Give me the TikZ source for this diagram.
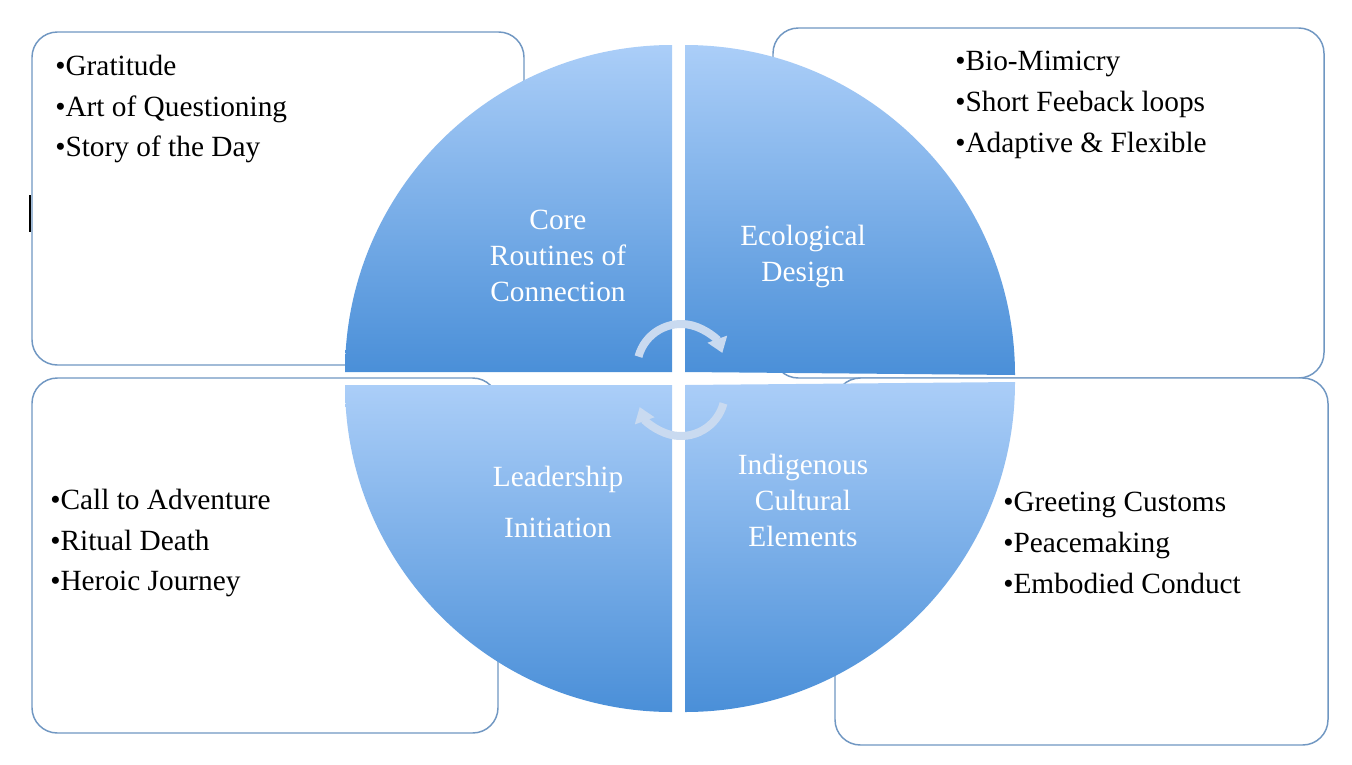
\documentclass[tikz,border=0pt]{standalone}
\usepackage{fontspec}
\setmainfont{Liberation Serif}
\usetikzlibrary{arrows.meta}
\definecolor{boxline}{HTML}{7097C2}
\definecolor{wedgetop}{HTML}{ABCEF8}
\definecolor{wedgebot}{HTML}{4A8FD8}
\definecolor{turn}{HTML}{C9DAF0}
\begin{document}
\begin{tikzpicture}[
		x=0.75pt, y=-0.75pt,
		card/.style={draw=boxline,fill=white,line width=1.1pt,rounded corners=19pt},
		items/.style={anchor=north west,align=left,inner sep=0pt,
		font=\fontsize{22}{30.5}\selectfont},
		title/.style={text=white,align=center,
		font=\fontsize{22}{27}\selectfont},
		wedge/.style={top color=wedgetop,bottom color=wedgebot},
		turnarc/.style={draw=turn,line width=6pt,-{Triangle[length=11pt,width=15pt]}}
		]
		\useasboundingbox (0,0) rectangle (1352,764);
		% boxes behind the circle
		\draw[card] (32,32) rectangle (524,365);
		\draw[card] (773,28) rectangle (1324,378);
		\draw[card] (32,378) rectangle (498,733);
		\draw[card] (835,378) rectangle (1328,745);
		\draw[line width=0.8pt] (30,195) -- (30,232);
		% four quarter wedges
		\shade[wedge] (672,372) -- ++(-327,0) arc[start angle=180,end angle=270,radius=327] -- cycle;
		\shade[wedge] (685,372) -- ++(0,-327) arc[start angle=270,end angle=360,radius=330] -- cycle;
		\shade[wedge] (672,385) -- ++(-327,0) arc[start angle=180,end angle=90,radius=327] -- cycle;
		\shade[wedge] (685,385) -- ++(0,327) arc[start angle=90,end angle=0,radius=330] -- cycle;
		% turning arrows
		\draw[turnarc] (681,368) ++(195:44) arc[start angle=195,end angle=340,radius=44];
		\draw[turnarc] (681,392) ++(15:44) arc[start angle=15,end angle=160,radius=44];
		% titles
		\node[title] (core) at (558,256) {Core\\Routines of\\Connection};
		\node[title] (eco) at (803,256) {Ecological\\Design};
		\node[title] (lead) at (558,502) {Leadership\\\rule{0pt}{32pt}Initiation};
		\node[title] (indi) at (803,500) {Indigenous\\Cultural\\Elements};
		% bullet lists
		\node[items] (tl) at (55,55) {\textbullet Gratitude\\\textbullet Art of Questioning\\\textbullet Story of the Day};
		\node[items] (tr) at (955,51) {\textbullet Bio-Mimicry\\\textbullet Short Feeback loops\\\textbullet Adaptive \& Flexible};
		\node[items] (bl) at (50,489) {\textbullet Call to Adventure\\\textbullet Ritual Death\\\textbullet Heroic Journey};
		\node[items] (br) at (1003,492) {\textbullet Greeting Customs\\\textbullet Peacemaking\\\textbullet Embodied Conduct};
	\end{tikzpicture}
\end{document}
